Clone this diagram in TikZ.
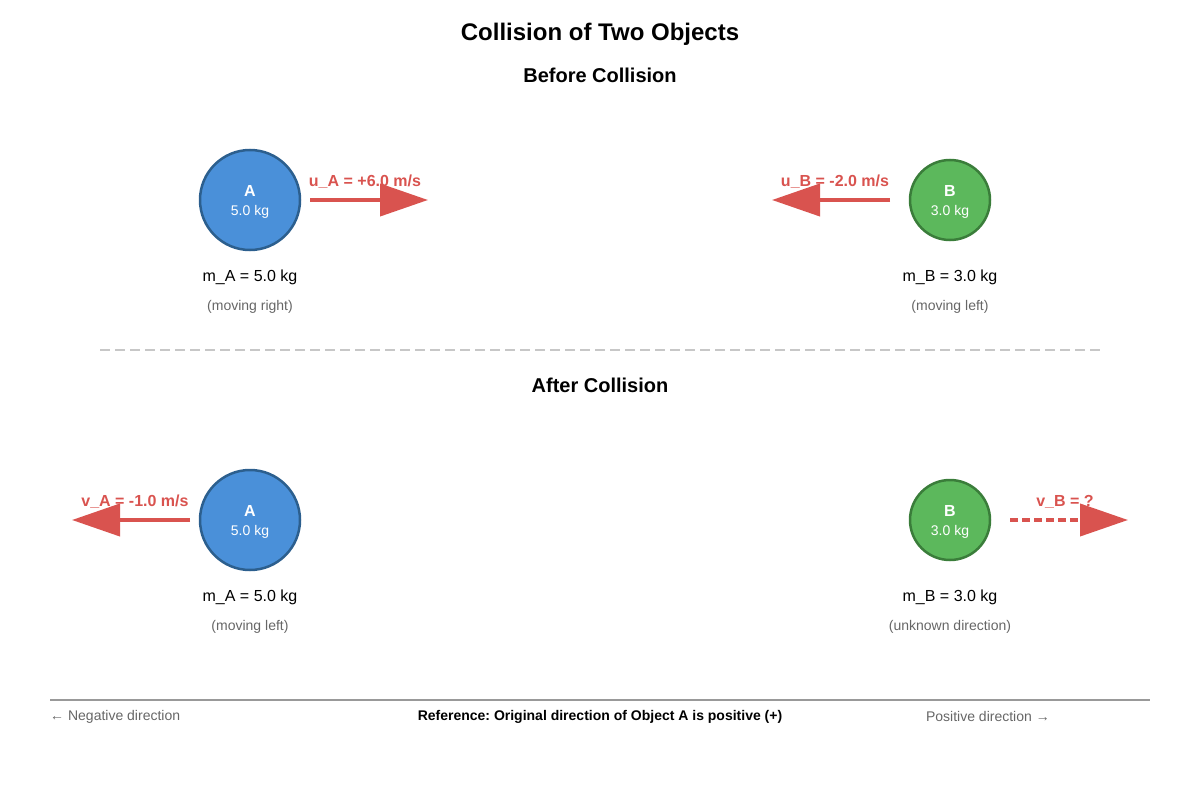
\documentclass[tikz,border=0pt]{standalone}
\usepackage{fontspec}
\setmainfont{Liberation Sans}
\usetikzlibrary{arrows.meta,positioning}
\definecolor{ballA}{HTML}{4A90D9}
\definecolor{ballAedge}{HTML}{2C5F8E}
\definecolor{ballB}{HTML}{5CB85C}
\definecolor{ballBedge}{HTML}{3A7D3A}
\definecolor{velred}{HTML}{D9534F}
\definecolor{notegray}{HTML}{666666}
\frenchspacing

\begin{document}
\begin{tikzpicture}[
    x=1pt, y=-1pt,
    every node/.style={inner sep=0pt, align=center},
    bigA/.style={
        circle, draw=ballAedge, fill=ballA,
        line width=2.5pt, minimum size=100pt
    },
    smallB/.style={
        circle, draw=ballBedge, fill=ballB,
        line width=2.5pt, minimum size=80pt
    },
    ballname/.style={text=white, font=\fontsize{16}{18}\selectfont\bfseries},
    ballmass/.style={text=white, font=\fontsize{14}{16}\selectfont},
    vel/.style={draw=velred, line width=4pt,
        -{Triangle[length=48pt,width=32pt]}},
    vellabel/.style={text=velred, font=\fontsize{16}{18}\selectfont\bfseries},
    masslabel/.style={font=\fontsize{16}{18}\selectfont},
    note/.style={text=notegray, font=\fontsize{14}{16}\selectfont},
    heading/.style={font=\fontsize{20}{24}\selectfont\bfseries}
]
\useasboundingbox (0,0) rectangle (1200,800);

\node[font=\fontsize{24}{28}\selectfont\bfseries] (title) at (600,34) {Collision of Two Objects};
\node[heading] (before) at (600,75) {Before Collision};

% before: object A
\node[bigA] (A1) at (250,200) {};
\node[ballname] (A1n) at (250,191) {A};
\node[ballmass] (A1m) at (250,212) {5.0 kg};
\coordinate (uA0) at (310,200);
\coordinate (uA1) at (428,200);
\draw[vel] (uA0) -- (uA1);
\node[vellabel] (uA) at (365,182) {u\_A = +6.0 m/s};
\node[masslabel] (mA1) at (250,277) {m\_A = 5.0 kg};
\node[note] (dA1) at (250,307) {(moving right)};

% before: object B
\node[smallB] (B1) at (950,200) {};
\node[ballname] (B1n) at (950,191) {B};
\node[ballmass] (B1m) at (950,212) {3.0 kg};
\coordinate (uB0) at (890,200);
\coordinate (uB1) at (772,200);
\draw[vel] (uB0) -- (uB1);
\node[vellabel] (uB) at (835,182) {u\_B = -2.0 m/s};
\node[masslabel] (mB1) at (950,277) {m\_B = 3.0 kg};
\node[note] (dB1) at (950,307) {(moving left)};

% separator
\coordinate (sep0) at (100,350);
\coordinate (sep1) at (1100,350);
\draw[black!22, line width=1.5pt, dash pattern=on 10pt off 5pt] (sep0) -- (sep1);

\node[heading] (after) at (600,385) {After Collision};

% after: object A
\node[bigA] (A2) at (250,520) {};
\node[ballname] (A2n) at (250,511) {A};
\node[ballmass] (A2m) at (250,532) {5.0 kg};
\coordinate (vA0) at (190,520);
\coordinate (vA1) at (72,520);
\draw[vel] (vA0) -- (vA1);
\node[vellabel] (vA) at (135,502) {v\_A = -1.0 m/s};
\node[masslabel] (mA2) at (250,597) {m\_A = 5.0 kg};
\node[note] (dA2) at (250,627) {(moving left)};

% after: object B
\node[smallB] (B2) at (950,520) {};
\node[ballname] (B2n) at (950,511) {B};
\node[ballmass] (B2m) at (950,532) {3.0 kg};
\coordinate (vB0) at (1010,520);
\coordinate (vB1) at (1128,520);
\draw[vel, dash pattern=on 8pt off 4pt] (vB0) -- (vB1);
\node[vellabel] (vB) at (1065,502) {v\_B = ?};
\node[masslabel] (mB2) at (950,597) {m\_B = 3.0 kg};
\node[note] (dB2) at (950,627) {(unknown direction)};

% reference axis
\coordinate (ax0) at (50,700);
\coordinate (ax1) at (1150,700);
\draw[black!40, line width=2pt] (ax0) -- (ax1);
\node[note, anchor=west] (neg) at (50,717) {← Negative direction};
\node[font=\fontsize{14}{16}\selectfont\bfseries] (ref) at (600,717)
    {Reference: Original direction of Object A is positive (+)};
\node[note, anchor=east] (pos) at (1050,716) {Positive direction →};
\end{tikzpicture}
\end{document}
